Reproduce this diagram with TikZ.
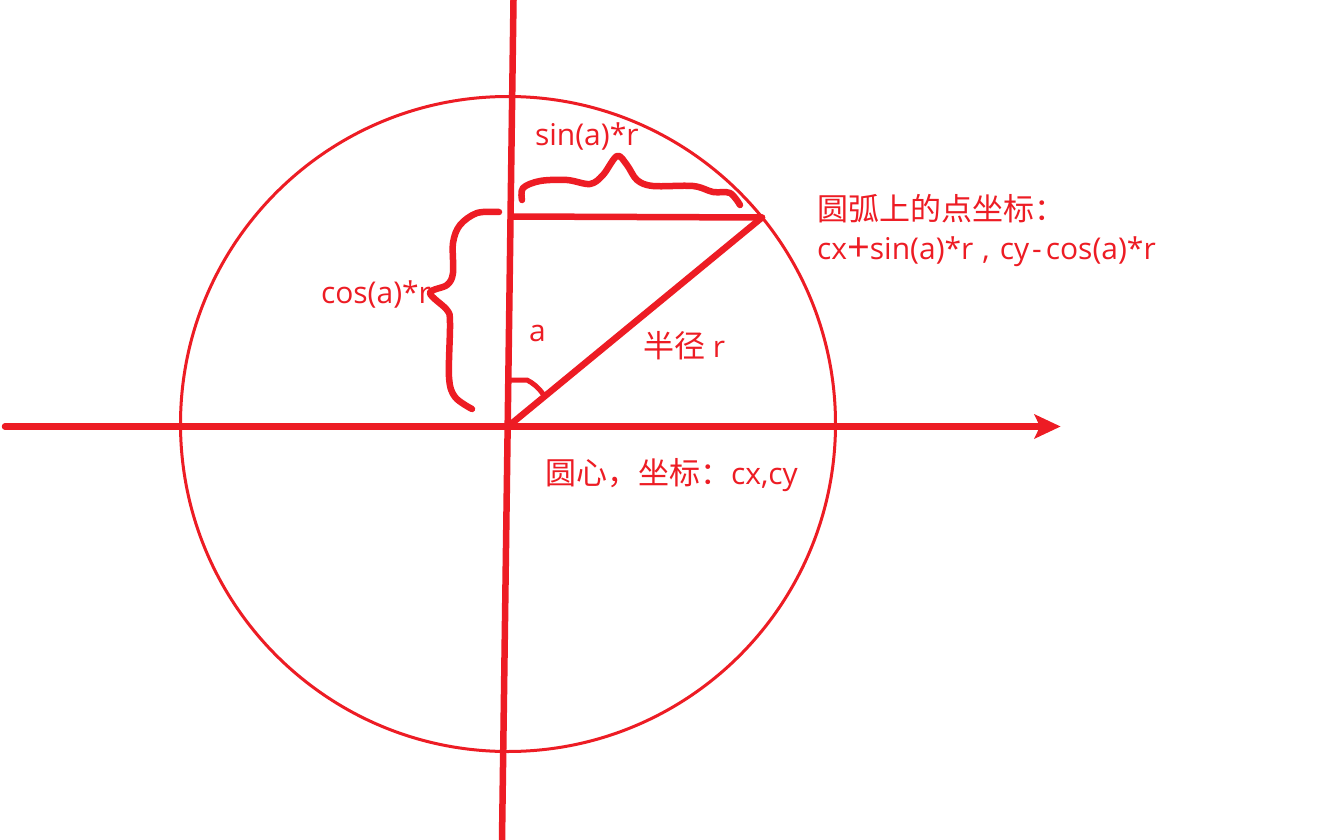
\documentclass[tikz,border=0pt]{standalone}
\usepackage{fontspec}
\setmainfont{Open Sans}
\newfontfamily\cjk{Noto Sans CJK SC}
\definecolor{inkred}{HTML}{ED1C24}
\newcommand{\zh}[1]{{\fontsize{31}{34}\selectfont\cjk #1}}
\tikzset{
  axisline/.style={draw=inkred,line width=6.5pt,line cap=round},
  triline/.style={draw=inkred,line width=6.5pt,line cap=round},
  thinring/.style={draw=inkred,line width=3pt},
  brace/.style={draw=inkred,line width=6.5pt,line cap=round,line join=round},
  lab/.style={text=inkred,anchor=base west,inner sep=0pt,outer sep=0pt,font=\fontsize{30}{34}\selectfont},
}
\begin{document}
\begin{tikzpicture}[x=1pt,y=-1pt]
\useasboundingbox (0,0) rectangle (1342,840);
\fill[white] (0,0) rectangle (1342,840);
\coordinate (c) at (508,424);
\coordinate (o) at (508,426.5);
\coordinate (p) at (762,217.5);
\coordinate (q) at (512,216.5);
\coordinate (vt) at (513.5,0);
\coordinate (vb) at (502,840);
\coordinate (hl) at (5,426.5);
\coordinate (hr) at (1040,426.5);
\coordinate (tip) at (1060.5,426.5);
\draw[thinring] (c) circle[radius=327.5];
\draw[axisline,line cap=butt] (vt) -- (vb);
\draw[axisline] (hl) -- (hr);
\fill[inkred] (tip) -- (1034,414) -- (1040,426.5) -- (1034,439) -- cycle;
\draw[triline] (o) -- (p);
\draw[triline] (q) -- (p);
\draw[brace,line width=5pt] (511,380) -- (527,380) .. controls (533,383) and (539,388) .. (543,394);
\draw[brace] plot[smooth,tension=0.55] coordinates {(522,200) (523,188) (540,181) (567,180) (590,184) (603,175) (617,156) (627,165) (637,180) (653,186) (693,186) (713,192) (730,193) (740,205)};
\draw[brace] plot[smooth,tension=0.55] coordinates {(499,212) (477,213) (460,225) (453,243) (453,273) (447,285) (430,293) (447,310) (450,323) (449,377) (455,397) (472,409)};
\node[lab] (sinlab) at (535,146) {sin(a)*r};
\node[lab] (coslab) at (321,303) {cos(a)*r};
\node[lab] (alab) at (529,341) {a};
\node[lab] (rlab) at (643,357) {\zh{半径} r};
\node[lab] (centerlab) at (545,484) {\zh{圆心，坐标：}cx,cy};
\node[lab] (arclab) at (817,220) {\zh{圆弧上的点坐标：}};
\node[lab] (coordlab) at (817,259) {cx\raisebox{-2pt}{\fontsize{40}{34}\selectfont+}sin(a)*r\kern9pt,\kern10pt cy\kern3pt-\kern4pt cos(a)*r};
\end{tikzpicture}
\end{document}
